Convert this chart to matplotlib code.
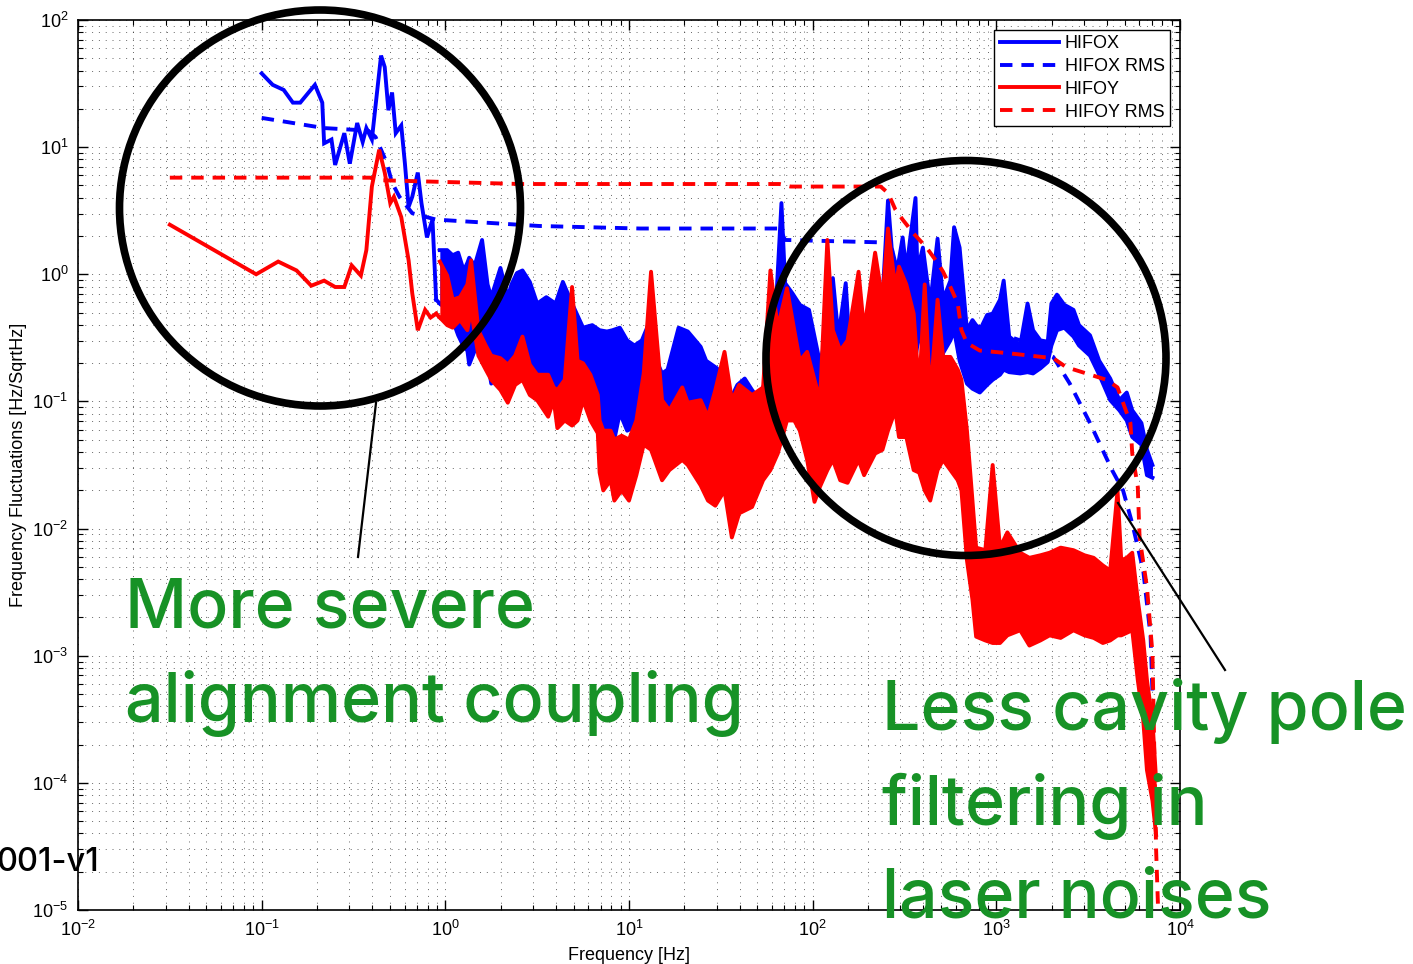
import numpy as np
import matplotlib
matplotlib.use("Agg")
import matplotlib.pyplot as plt
from matplotlib.patches import Ellipse
from matplotlib.lines import Line2D
from matplotlib.ticker import LogLocator, NullFormatter

plt.rcParams['font.family'] = ['Liberation Sans', 'DejaVu Sans']
plt.rcParams['mathtext.fontset'] = 'custom'
plt.rcParams['mathtext.rm'] = 'Liberation Sans'
plt.rcParams['mathtext.default'] = 'regular'

# all values are log10(frequency [Hz]) and log10(ASD [Hz/sqrtHz])
# HIFOX, clean low-frequency part
hifox_lf = np.array([-1.00, -0.94, -0.88, -0.83, -0.79, -0.71, -0.67, -0.66, -0.62, -0.60,
                     -0.55, -0.52, -0.48, -0.45, -0.43, -0.40, -0.35, -0.33, -0.31, -0.29,
                     -0.27, -0.24, -0.22, -0.20, -0.18, -0.15, -0.13, -0.10, -0.07, -0.05])
hifox_lv = np.array([1.58, 1.49, 1.45, 1.35, 1.35, 1.49, 1.35, 1.03, 1.06, 0.86,
                     1.11, 0.87, 1.19, 1.04, 1.15, 1.06, 1.72, 1.63, 1.29, 1.43,
                     1.11, 1.17, 0.87, 0.53, 0.61, 0.80, 0.56, 0.29, 0.43, -0.20])
# HIFOX, noisy part: frequency, upper and lower edge of the trace
hifox_bf = np.array([-0.03, 0.01, 0.04, 0.07, 0.10, 0.12, 0.13, 0.16, 0.20, 0.23,
                     0.25, 0.30, 0.34, 0.36, 0.39, 0.42, 0.46, 0.50, 0.55, 0.60,
                     0.64, 0.69, 0.75, 0.80, 0.84, 0.88, 0.91, 0.95, 0.99, 1.03,
                     1.07, 1.11, 1.15, 1.18, 1.21, 1.27, 1.32, 1.39, 1.42, 1.48,
                     1.51, 1.55, 1.59, 1.63, 1.67, 1.70, 1.75, 1.79, 1.83, 1.85,
                     1.89, 1.93, 1.98, 2.04, 2.08, 2.11, 2.14, 2.18, 2.20, 2.24,
                     2.27, 2.31, 2.35, 2.38, 2.41, 2.43, 2.46, 2.49, 2.51, 2.53,
                     2.56, 2.57, 2.60, 2.64, 2.68, 2.71, 2.75, 2.77, 2.80, 2.84,
                     2.87, 2.91, 2.95, 2.98, 3.02, 3.04, 3.07, 3.13, 3.17, 3.20,
                     3.24, 3.28, 3.30, 3.33, 3.37, 3.42, 3.45, 3.51, 3.56, 3.62,
                     3.67, 3.71, 3.74, 3.79, 3.82, 3.85])
hifox_hi = np.array([0.19, 0.19, 0.15, 0.17, 0.03, 0.09, 0.13, 0.07, 0.27, -0.08,
                     -0.18, 0.05, -0.18, -0.08, 0.01, 0.03, -0.06, -0.23, -0.18, -0.23,
                     -0.06, -0.23, -0.42, -0.40, -0.44, -0.45, -0.44, -0.42, -0.52, -0.56,
                     -0.52, -0.38, -0.68, -0.78, -0.75, -0.42, -0.45, -0.57, -0.68, -0.74,
                     -0.83, -0.99, -0.87, -0.82, -0.91, -0.97, -0.83, -0.52, 0.56, -0.07,
                     -0.15, -0.24, -0.28, -0.70, -0.44, -0.03, -0.49, -0.07, -0.54, -0.36,
                     -0.54, -0.52, -0.49, -0.20, 0.58, 0.21, 0.03, 0.29, 0.03, 0.27,
                     0.60, 0.03, 0.21, -0.23, 0.28, -0.20, -0.05, 0.37, 0.21, -0.44,
                     -0.36, -0.44, -0.32, -0.31, -0.20, -0.05, -0.49, -0.56, -0.23, -0.44,
                     -0.52, -0.53, -0.23, -0.16, -0.24, -0.28, -0.40, -0.48, -0.68, -0.82,
                     -0.99, -0.93, -1.07, -1.17, -1.38, -1.50])
hifox_lo = np.array([-0.23, -0.28, -0.36, -0.48, -0.57, -0.60, -0.71, -0.60, -0.57, -0.68,
                     -0.86, -0.70, -0.75, -0.68, -0.64, -0.71, -0.91, -0.83, -0.81, -0.91,
                     -0.81, -0.87, -0.93, -1.07, -1.15, -1.30, -1.37, -1.09, -1.23, -1.20,
                     -1.15, -1.19, -1.25, -1.38, -1.54, -1.34, -1.30, -1.34, -1.36, -1.42,
                     -1.46, -1.52, -1.48, -1.46, -1.30, -1.20, -0.93, -0.83, -0.75, -0.83,
                     -0.99, -1.07, -1.15, -1.17, -1.07, -1.01, -0.91, -0.99, -1.15, -1.23,
                     -1.15, -1.01, -0.91, -0.83, -0.70, -0.69, -0.68, -0.60, -0.49, -0.56,
                     -0.65, -0.56, -0.38, -0.68, -0.81, -0.62, -0.52, -0.44, -0.68, -0.86,
                     -0.90, -0.93, -0.87, -0.83, -0.79, -0.75, -0.77, -0.78, -0.77, -0.78,
                     -0.74, -0.69, -0.56, -0.44, -0.42, -0.49, -0.56, -0.64, -0.79, -0.99,
                     -1.07, -1.15, -1.28, -1.34, -1.58, -1.60])
# HIFOX RMS
hifox_rms_f = np.array([-1.00, -0.66, -0.42, -0.38, -0.32, -0.29, -0.25, -0.18, -0.05, 0.51,
                        1.06, 1.82, 1.85, 2.40, 2.45, 2.54, 2.67, 2.80, 2.93, 3.13,
                        3.31, 3.40, 3.51, 3.63, 3.69, 3.74, 3.80, 3.84, 3.85])
hifox_rms_v = np.array([1.23, 1.15, 1.13, 1.08, 0.88, 0.72, 0.61, 0.48, 0.43, 0.38,
                        0.36, 0.36, 0.27, 0.25, 0.14, 0.13, -0.08, -0.38, -0.42, -0.52,
                        -0.65, -0.86, -1.17, -1.54, -1.70, -1.96, -2.33, -2.85, -3.29])

# HIFOY, clean low-frequency part
hifoy_lf = np.array([-1.50, -1.03, -0.91, -0.81, -0.73, -0.66, -0.60, -0.55, -0.51, -0.46,
                     -0.43, -0.40, -0.36, -0.33, -0.30, -0.28, -0.24, -0.20, -0.18, -0.15,
                     -0.11, -0.08, -0.05])
hifoy_lv = np.array([0.39, 0.00, 0.10, 0.03, -0.09, -0.05, -0.10, -0.10, 0.07, -0.01,
                     0.19, 0.69, 0.98, 0.80, 0.56, 0.61, 0.45, 0.11, -0.15, -0.44,
                     -0.28, -0.34, -0.31])
# HIFOY, noisy part
hifoy_bf = np.array([-0.03, 0.01, 0.04, 0.08, 0.12, 0.14, 0.18, 0.22, 0.25, 0.30,
                     0.34, 0.38, 0.42, 0.46, 0.50, 0.56, 0.59, 0.61, 0.65, 0.69,
                     0.72, 0.75, 0.79, 0.83, 0.84, 0.86, 0.90, 0.92, 0.96, 1.00,
                     1.04, 1.08, 1.12, 1.18, 1.22, 1.29, 1.32, 1.39, 1.43, 1.47,
                     1.52, 1.56, 1.60, 1.67, 1.73, 1.77, 1.81, 1.86, 1.90, 1.93,
                     1.97, 2.01, 2.04, 2.08, 2.11, 2.15, 2.19, 2.25, 2.28, 2.34,
                     2.38, 2.41, 2.45, 2.47, 2.51, 2.55, 2.58, 2.61, 2.64, 2.68,
                     2.71, 2.75, 2.79, 2.81, 2.84, 2.87, 2.89, 2.94, 2.98, 3.02,
                     3.06, 3.13, 3.18, 3.24, 3.29, 3.35, 3.42, 3.48, 3.53, 3.58,
                     3.62, 3.66, 3.68, 3.71, 3.74, 3.77, 3.80, 3.82, 3.85, 3.87])
hifoy_hi = np.array([0.10, -0.01, -0.20, -0.18, -0.08, 0.11, -0.44, -0.56, -0.64, -0.66,
                     -0.71, -0.64, -0.49, -0.71, -0.79, -0.79, -0.89, -0.91, -0.83, -0.10,
                     -0.68, -0.70, -0.79, -0.95, -1.15, -1.23, -1.23, -1.30, -1.27, -1.30,
                     -1.15, -0.78, 0.02, -0.99, -1.07, -0.89, -1.01, -0.99, -1.12, -0.91,
                     -0.61, -0.99, -0.87, -0.95, -0.89, 0.03, -0.42, -0.11, -0.44, -0.68,
                     -0.61, -0.83, -0.99, 0.27, -0.44, -0.60, -0.52, 0.02, -0.44, 0.17,
                     -0.20, 0.36, -0.10, 0.06, -0.08, -0.31, -0.91, -0.08, -0.97, -0.20,
                     -0.65, -0.65, -0.75, -0.83, -1.23, -1.78, -2.15, -2.17, -1.50, -2.15,
                     -2.03, -2.19, -2.23, -2.21, -2.19, -2.15, -2.17, -2.21, -2.23, -2.29,
                     -2.33, -1.70, -2.25, -2.23, -2.19, -2.56, -2.88, -3.19, -3.51, -3.98])
hifoy_lo = np.array([-0.34, -0.40, -0.42, -0.36, -0.44, -0.28, -0.64, -0.75, -0.83, -0.91,
                     -1.01, -0.87, -0.83, -0.95, -0.99, -1.12, -0.99, -1.21, -1.15, -1.19,
                     -1.15, -0.99, -1.15, -1.25, -1.56, -1.70, -1.62, -1.78, -1.70, -1.78,
                     -1.58, -1.34, -1.38, -1.62, -1.54, -1.46, -1.50, -1.66, -1.78, -1.82,
                     -1.70, -2.07, -1.88, -1.83, -1.62, -1.54, -1.41, -1.15, -1.15, -1.23,
                     -1.46, -1.79, -1.67, -1.54, -1.46, -1.62, -1.64, -1.46, -1.58, -1.41,
                     -1.38, -1.23, -1.07, -1.28, -1.28, -1.54, -1.56, -1.70, -1.78, -1.54,
                     -1.46, -1.54, -1.62, -1.70, -2.25, -2.56, -2.85, -2.88, -2.90, -2.90,
                     -2.84, -2.80, -2.92, -2.88, -2.84, -2.86, -2.80, -2.84, -2.86, -2.90,
                     -2.88, -2.84, -2.84, -2.82, -2.80, -3.19, -3.51, -3.90, -4.14, -4.41])
# HIFOY RMS
hifoy_rms_f = np.array([-1.50, -0.41, -0.36, 0.41, 1.82, 1.88, 2.37, 2.41, 2.45, 2.49,
                        2.55, 2.62, 2.68, 2.71, 2.75, 2.79, 2.81, 2.84, 2.91, 3.06,
                        3.31, 3.38, 3.49, 3.60, 3.66, 3.69, 3.73, 3.74, 3.77, 3.78,
                        3.82, 3.85, 3.86, 3.87, 3.88])
hifoy_rms_v = np.array([0.76, 0.76, 0.74, 0.71, 0.71, 0.69, 0.69, 0.64, 0.51, 0.43,
                        0.32, 0.21, 0.09, 0.02, -0.10, -0.23, -0.44, -0.54, -0.60, -0.62,
                        -0.66, -0.73, -0.78, -0.83, -0.89, -1.01, -1.17, -1.41, -1.67, -2.07,
                        -2.46, -2.98, -3.74, -4.53, -4.96])

labels = ['HIFOX', 'HIFOX RMS', 'HIFOY', 'HIFOY RMS']

W, H = 1413, 964
fig = plt.figure(figsize=(W / 100, H / 100), dpi=100)
ax = fig.add_axes([78 / W, 54 / H, 1102 / W, 890 / H])
lw = 2.8
dash = (3.2, 2.3)


def draw_trace(lf, lv, bf, bhi, blo, color, z):
    ax.plot(10 ** lf, 10 ** lv, color=color, lw=lw, zorder=z, solid_joinstyle='miter')
    ax.fill_between(10 ** bf, 10 ** blo, 10 ** bhi, color=color, lw=0, zorder=z)
    ax.plot(10 ** bf, 10 ** bhi, color=color, lw=lw, zorder=z)
    ax.plot(10 ** bf, 10 ** blo, color=color, lw=lw, zorder=z)
    ax.plot(10 ** np.array([lf[-1], bf[0]]), 10 ** np.array([lv[-1], blo[0]]),
            color=color, lw=lw, zorder=z)


draw_trace(hifox_lf, hifox_lv, hifox_bf, hifox_hi, hifox_lo, 'blue', 2)
ax.plot(10 ** hifox_rms_f, 10 ** hifox_rms_v, color='blue', lw=lw, dashes=dash, zorder=3)
draw_trace(hifoy_lf, hifoy_lv, hifoy_bf, hifoy_hi, hifoy_lo, 'red', 4)
ax.plot(10 ** hifoy_rms_f, 10 ** hifoy_rms_v, color='red', lw=lw, dashes=dash, zorder=5)

ax.set_xscale('log')
ax.set_yscale('log')
ax.set_xlim(1e-2, 1e4)
ax.set_ylim(1e-5, 1e2)
for axis in (ax.xaxis, ax.yaxis):
    axis.set_major_locator(LogLocator(base=10, numticks=20))
    axis.set_minor_locator(LogLocator(base=10, subs=np.arange(2, 10), numticks=20))
    axis.set_minor_formatter(NullFormatter())
ax.grid(True, which='both', color='k', lw=0.7, alpha=0.6, linestyle=(0, (1, 6)))
ax.tick_params(which='both', direction='in', top=True, right=True, labelsize=13, pad=7)
ax.tick_params(which='major', length=7, width=1)
ax.tick_params(which='minor', length=3.5, width=0.8)
for s in ax.spines.values():
    s.set_linewidth(1.2)
ax.set_xlabel('Frequency [Hz]', fontsize=13, labelpad=5)
ax.set_ylabel('Frequency Fluctuations [Hz/SqrtHz]', fontsize=13, labelpad=4)

handles = [Line2D([], [], color='blue', lw=lw),
           Line2D([], [], color='blue', lw=lw, dashes=dash),
           Line2D([], [], color='red', lw=lw),
           Line2D([], [], color='red', lw=lw, dashes=dash)]
leg = ax.legend(handles, labels, loc='upper right', bbox_to_anchor=(0.991, 0.989),
                borderaxespad=0, fontsize=13, handlelength=3.3, handletextpad=0.3,
                labelspacing=0.32, borderpad=0.3, fancybox=False, framealpha=1,
                edgecolor='black')
leg.get_frame().set_linewidth(1)
leg.set_zorder(10)


def fx(x):
    return x / W


def fy(y):
    return 1 - y / H


# annotation circles and pointers
for cx, cy, w, h in [(320, 208, 401, 396), (966, 358, 400, 395)]:
    fig.add_artist(Ellipse((fx(cx), fy(cy)), w / W, h / H, transform=fig.transFigure,
                           fill=False, edgecolor='black', lw=5.5, zorder=6))
for x1, y1, x2, y2 in [(376, 403, 358, 557), (1118, 503, 1225, 670)]:
    fig.add_artist(Line2D([fx(x1), fx(x2)], [fy(y1), fy(y2)], transform=fig.transFigure,
                          color='black', lw=1.6, zorder=6))

green = '#179226'
tfont = dict(family=['Inter', 'DejaVu Sans'], fontsize=49, fontweight='medium',
             color=green, va='baseline', ha='left', zorder=7)
fig.text(fx(125), fy(628), 'More severe', **tfont)
fig.text(fx(125), fy(722), 'alignment coupling', **tfont)
fig.text(fx(882), fy(730), 'Less cavity pole', **tfont)
fig.text(fx(882), fy(825), 'filtering in', **tfont)
fig.text(fx(882), fy(917), 'laser noises', **tfont)
fig.text(fx(-4), fy(871), '001-v1', family=['Inter', 'DejaVu Sans'], fontsize=23.5,
         fontweight='medium', color='black', va='baseline', ha='left', zorder=7)

fig.savefig('out.png', dpi=100)
